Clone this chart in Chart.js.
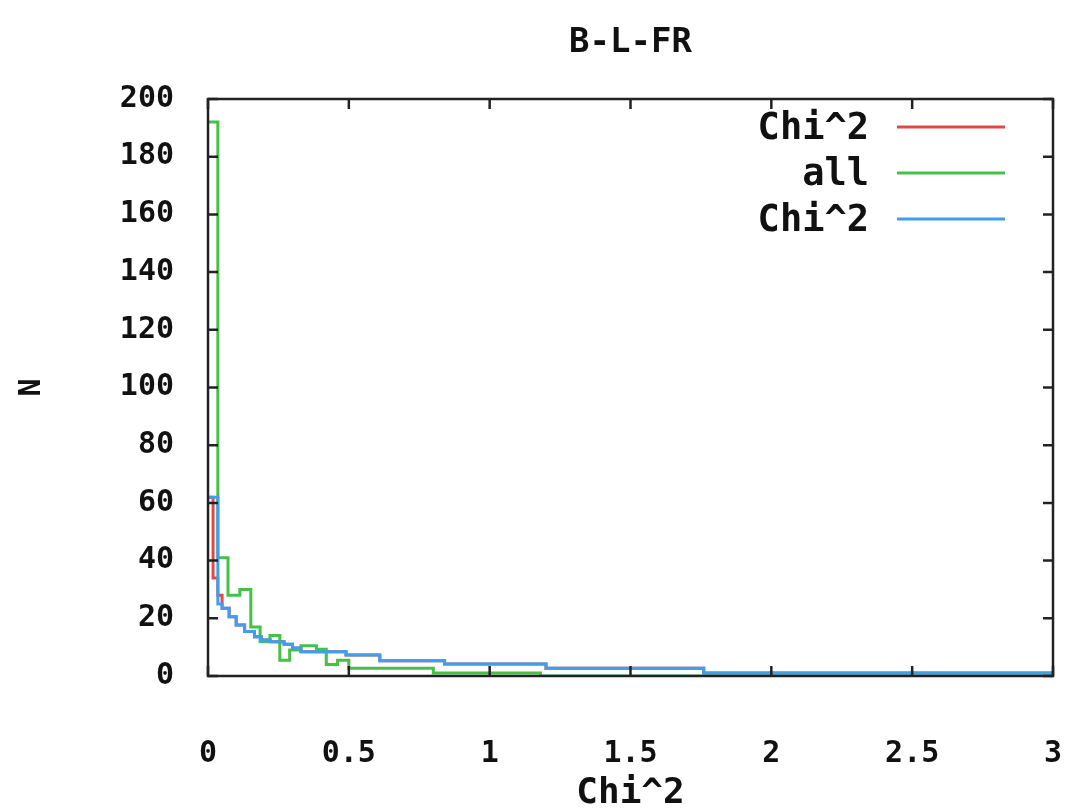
<!DOCTYPE html>
<html lang="en">
<head>
    <meta charset="UTF-8">
    <title>B-L-FR</title>
    <script src="https://cdn.jsdelivr.net/npm/chart.js"></script>
    <style>
        body { margin: 0; background: #fff; }
    </style>
</head>
<body>
<canvas id="histChart" width="1081" height="811"></canvas>

<script>
    // bin edges (Chi^2) and counts
    const redEdges = [0, 0.018, 0.035, 0.05, 0.075, 0.1, 0.13, 0.165, 0.19, 0.22, 0.27, 0.3, 0.33, 0.49, 0.61, 0.84, 1.2, 1.76, 3];
    const redCounts = [62, 34, 28, 23.5, 20.5, 17.7, 15.4, 13.6, 12.5, 11.9, 11, 9.7, 8.4, 7.3, 5.3, 4.2, 2.7, 1];

    const greenEdges = [0, 0.035, 0.071, 0.113, 0.152, 0.185, 0.22, 0.255, 0.29, 0.33, 0.385, 0.42, 0.46, 0.5, 0.8, 1.18, 3];
    const greenCounts = [192, 41, 28, 30, 17, 12, 14, 5.5, 9, 10.5, 9.3, 4, 5.5, 2.7, 1, 0];

    const blueEdges = [0, 0.035, 0.05, 0.075, 0.1, 0.13, 0.165, 0.19, 0.22, 0.27, 0.3, 0.33, 0.49, 0.61, 0.84, 1.2, 1.76, 3];
    const blueCounts = [62, 25, 23.5, 20.5, 17.7, 15.4, 13.6, 12.5, 11.9, 11, 9.7, 8.4, 7.3, 5.3, 4.2, 2.7, 1];

    const seriesLabels = ['Chi^2', 'all', 'Chi^2'];
    const seriesColors = ['#e04a46', '#46c046', '#3e9ef0'];

    const xTicks = [0, 0.5, 1, 1.5, 2, 2.5, 3];
    const yTicks = [0, 20, 40, 60, 80, 100, 120, 140, 160, 180, 200];

    const chartTitle = 'B-L-FR';
    const FONT = 'DejaVu Sans Mono';

    function steps(edges, counts) {
        const pts = counts.map((c, i) => ({x: edges[i], y: c}));
        pts.push({x: edges[edges.length - 1], y: counts[counts.length - 1]});
        return pts;
    }

    // gnuplot-like frame with inward ticks, title over the plot, key in the top right
    const framePlugin = {
        id: 'frame',
        afterDatasetsDraw(chart) {
            const ctx = chart.ctx;
            const a = chart.chartArea;
            const xs = chart.scales.x, ys = chart.scales.y;
            ctx.save();
            ctx.strokeStyle = '#222';
            ctx.lineWidth = 2.5;
            ctx.beginPath();
            xTicks.forEach(v => {
                const px = xs.getPixelForValue(v);
                ctx.moveTo(px, a.bottom); ctx.lineTo(px, a.bottom - 10);
                ctx.moveTo(px, a.top); ctx.lineTo(px, a.top + 10);
            });
            yTicks.forEach(v => {
                const py = ys.getPixelForValue(v);
                ctx.moveTo(a.left, py); ctx.lineTo(a.left + 10, py);
                ctx.moveTo(a.right, py); ctx.lineTo(a.right - 10, py);
            });
            ctx.stroke();
            ctx.strokeRect(a.left, a.top, a.right - a.left, a.bottom - a.top);

            ctx.fillStyle = '#111';
            ctx.textAlign = 'center';
            ctx.textBaseline = 'middle';
            ctx.font = 'bold 34px "' + FONT + '"';
            ctx.fillText(chartTitle, (a.left + a.right) / 2, 43);

            ctx.font = 'bold 37px "' + FONT + '"';
            ctx.textAlign = 'right';
            ctx.lineWidth = 3;
            seriesLabels.forEach((lab, i) => {
                const y = 127 + i * 46;
                ctx.fillStyle = '#111';
                ctx.fillText(lab, 869, y + 2);
                ctx.strokeStyle = seriesColors[i];
                ctx.beginPath();
                ctx.moveTo(897, y);
                ctx.lineTo(1005, y);
                ctx.stroke();
            });
            ctx.restore();
        }
    };

    const ctx = document.getElementById('histChart').getContext('2d');
    new Chart(ctx, {
        type: 'line',
        data: {
            datasets: [
                {label: seriesLabels[0], data: steps(redEdges, redCounts), borderColor: seriesColors[0], order: 3},
                {label: seriesLabels[1], data: steps(greenEdges, greenCounts), borderColor: seriesColors[1], order: 2},
                {label: seriesLabels[2], data: steps(blueEdges, blueCounts), borderColor: seriesColors[2], order: 1}
            ]
        },
        options: {
            responsive: false,
            animation: false,
            devicePixelRatio: 1,
            layout: {padding: {left: 10, right: 28, top: 99, bottom: 0}},
            elements: {
                line: {borderWidth: 3, stepped: true, fill: false, tension: 0},
                point: {radius: 0}
            },
            plugins: {
                legend: {display: false},
                tooltip: {enabled: false},
                title: {display: false}
            },
            scales: {
                x: {
                    type: 'linear',
                    min: 0,
                    max: 3,
                    afterBuildTicks: s => { s.ticks = xTicks.map(v => ({value: v})); },
                    afterFit: s => { s.height = 135; s.paddingLeft = 0; s.paddingRight = 0; },
                    grid: {display: false},
                    border: {display: false},
                    ticks: {
                        color: '#111',
                        padding: 52,
                        maxRotation: 0,
                        callback: v => String(v),
                        font: {family: FONT, size: 30, weight: 'bold'}
                    },
                    title: {
                        display: true,
                        text: 'Chi^2',
                        color: '#111',
                        font: {family: FONT, size: 36, weight: 'bold'},
                        padding: {top: 0, bottom: -4}
                    }
                },
                y: {
                    min: 0,
                    max: 200,
                    afterBuildTicks: s => { s.ticks = yTicks.map(v => ({value: v})); },
                    afterFit: s => { s.width = 198; s.paddingTop = 0; s.paddingBottom = 0; },
                    grid: {display: false},
                    border: {display: false},
                    ticks: {color: '#111', padding: 26, font: {family: FONT, size: 30, weight: 'bold'}},
                    title: {
                        display: true,
                        text: 'N',
                        color: '#111',
                        font: {family: FONT, size: 30, weight: 'bold'},
                        padding: {top: 4, bottom: 0}
                    }
                }
            }
        },
        plugins: [framePlugin]
    });
</script>
</body>
</html>
